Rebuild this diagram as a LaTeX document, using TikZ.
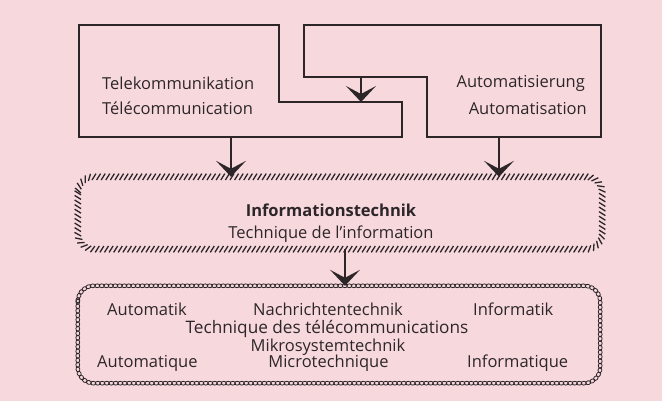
\documentclass[tikz,border=0pt]{standalone}
\usepackage{fontspec}
\setmainfont{Open Sans}
\usetikzlibrary{arrows.meta,decorations.markings}
\definecolor{bg}{RGB}{247,217,221}
\definecolor{ink}{RGB}{45,38,41}
\begin{document}
\begin{tikzpicture}[x=1pt,y=-1pt,
  wall/.style={draw=ink, line width=2.4pt, line join=miter},
  flow/.style={draw=ink, line width=1.4pt, -{Stealth[length=16pt,width=30pt,inset=8pt]}},
  lbl/.style={font=\fontsize{16.5}{18}\selectfont, text=ink, inner sep=0pt},
  blbl/.style={lbl, font=\fontsize{16.5}{18}\selectfont\bfseries},
  area/.style={minimum width=524pt, inner sep=0pt},
  hatch/.style={postaction={decorate, decoration={markings,
      mark=between positions 0 and 1 step 4.6pt with {\draw[ink, line width=1.3pt] (-2pt,-3.2pt)--(2pt,3.2pt);}}}},
  chain/.style={postaction={decorate, decoration={markings,
      mark=between positions 0 and 1 step 4.5pt with {\draw[ink, line width=0.8pt] (0,0) ellipse [x radius=2.6pt, y radius=1.9pt];}}}}
]
\fill[bg] (0,0) rectangle (662,401);
\useasboundingbox (0,0) rectangle (662,401);

% upper blocks
\draw[wall] (79,25) -- (279,25) -- (279,102) -- (402,102) -- (402,137) -- (79,137) -- cycle;
\draw[wall] (304,25) -- (601,25) -- (601,137) -- (427,137) -- (427,77) -- (304,77) -- cycle;

\node[lbl, anchor=base west] (tele1) at (102,90) {Telekommunikation};
\node[lbl, anchor=base west] (tele2) at (102,115) {Télécommunication};
\node[lbl, anchor=base east] (auto1) at (585,88) {Automatisierung};
\node[lbl, anchor=base east] (auto2) at (587,115) {Automatisation};

% middle and lower areas
\node[area, minimum height=72pt] (info) at (340,213) {};
\node[minimum width=522pt, minimum height=97pt, inner sep=0pt] (chainbox) at (339,334.5) {};

\path[hatch, rounded corners=16pt] (info.north west) rectangle (info.south east);
\path[chain, rounded corners=16pt] (chainbox.north west) rectangle (chainbox.south east);

\node[blbl, anchor=base] (it1) at (331,217) {Informationstechnik};
\node[lbl, anchor=base] (it2) at (331,238) {Technique de l’information};

\node[lbl, anchor=base west] (b1) at (107,315) {Automatik};
\node[lbl, anchor=base] (b2) at (328,315) {Nachrichtentechnik};
\node[lbl, anchor=base west] (b3) at (473,315) {Informatik};
\node[lbl, anchor=base, font=\fontsize{17.2}{18}\selectfont] (b4) at (327,333) {Technique des télécommunications};
\node[lbl, anchor=base] (b5) at (328,351) {Mikrosystemtechnik};
\node[lbl, anchor=base west] (b6) at (97,367) {Automatique};
\node[lbl, anchor=base] (b7) at (328.5,367) {Microtechnique};
\node[lbl, anchor=base west] (b8) at (467,367) {Informatique};

% connectors
\coordinate (teleOut) at (231,137);
\coordinate (autoOut) at (499,137);
\coordinate (autoStep) at (361,77);
\coordinate (teleStep) at (361,102);
\coordinate (midx) at (345,0);
\draw[flow] (autoStep) -- (teleStep);
\draw[flow] (teleOut) -- (teleOut |- info.north);
\draw[flow] (autoOut) -- (autoOut |- info.north);
\draw[flow] (info.south -| midx) -- (chainbox.north -| midx);
\end{tikzpicture}
\end{document}
